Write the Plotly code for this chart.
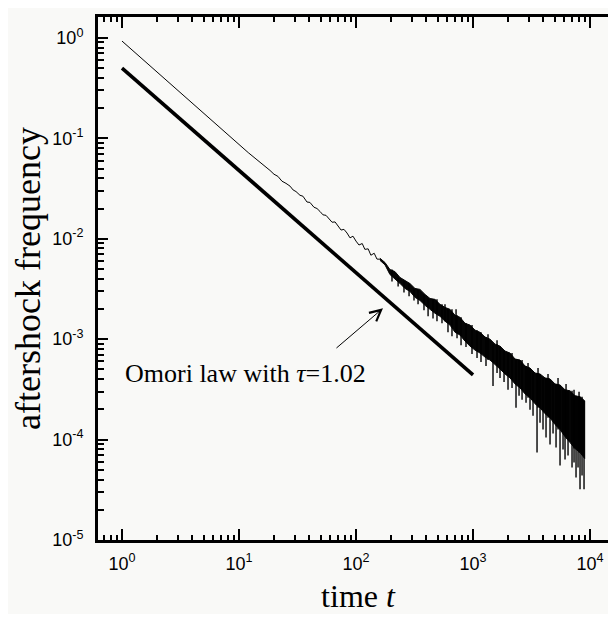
import numpy as np
import plotly.graph_objects as go

# ---------------- data ----------------
# Omori-law fit (thick line), tau = 1.02
omori_t = [1, 1000]
omori_f = [0.5, 4.4e-4]

# observed aftershock frequency, early (clean) part
obs_t = [1, 5, 12, 18.4, 19.9, 21.5, 23.3, 25.2, 27.3, 29.0, 30.7, 33.2, 35.2, 38.1,
         40.4, 43.7, 46.4, 49.2, 52.2, 55.4, 58.8, 62.4, 66.2, 70.2, 74.5, 78.9,
         83.8, 88.9, 94.2, 100, 106, 113, 119, 127, 134, 143, 151, 160]
obs_f = [0.93, 0.177, 0.072, 0.0479, 0.0439, 0.0418, 0.0374, 0.0356, 0.0334, 0.0306,
         0.0295, 0.0271, 0.0265, 0.0232, 0.0230, 0.0206, 0.0200, 0.0187, 0.0173,
         0.0171, 0.0158, 0.0146, 0.0147, 0.0132, 0.0122, 0.0124, 0.0114, 0.0102,
         0.0106, 9.47e-3, 8.66e-3, 8.96e-3, 7.84e-3, 7.93e-3, 6.85e-3, 7.17e-3,
         6.27e-3, 6.25e-3]

# noisy late part: upper / lower edge of the dense band
band_t = [160, 177, 195, 215, 238, 262, 289, 319, 352, 389, 429, 473, 522, 576, 636,
          702, 774, 854, 943, 1040, 1148, 1266, 1397, 1542, 1701, 1877, 2071, 2286,
          2522, 2782, 3070, 3388, 3738, 4125, 4551, 5022, 5541, 6114, 6746, 7443,
          8212, 9000]
band_hi = [6.40e-3, 5.79e-3, 4.93e-3, 4.71e-3, 4.11e-3, 3.84e-3, 3.58e-3, 3.20e-3,
           3.13e-3, 2.79e-3, 2.54e-3, 2.49e-3, 2.22e-3, 2.07e-3, 1.98e-3, 1.73e-3,
           1.65e-3, 1.44e-3, 1.38e-3, 1.23e-3, 1.17e-3, 1.05e-3, 1.00e-3, 8.92e-4,
           8.52e-4, 7.61e-4, 7.27e-4, 6.34e-4, 6.20e-4, 5.40e-4, 5.16e-4, 4.60e-4,
           4.50e-4, 4.11e-4, 4.02e-4, 3.58e-4, 3.50e-4, 3.13e-4, 3.06e-4, 2.73e-4,
           2.67e-4, 2.43e-4]
band_lo = [6.10e-3, 5.49e-3, 4.40e-3, 3.95e-3, 3.58e-3, 3.20e-3, 2.99e-3, 2.61e-3,
           2.43e-3, 2.17e-3, 1.98e-3, 1.81e-3, 1.69e-3, 1.51e-3, 1.38e-3, 1.17e-3,
           1.10e-3, 9.55e-4, 8.52e-4, 7.78e-4, 7.27e-4, 6.63e-4, 6.20e-4, 5.53e-4,
           5.04e-4, 4.50e-4, 4.11e-4, 3.58e-4, 3.27e-4, 2.85e-4, 2.61e-4, 2.27e-4,
           2.07e-4, 1.81e-4, 1.65e-4, 1.41e-4, 1.26e-4, 1.07e-4, 9.34e-5, 8.14e-5,
           7.43e-5, 6.48e-5]

# downward spikes (low counts) in the noisy part
dip_t = [203, 229, 257, 284, 313, 339, 381, 413, 455, 492, 543, 611, 661, 730, 790,
         871, 980, 1082, 1170, 1291, 1482, 1604, 1701, 1841, 1991, 2154, 2330, 2474,
         2624, 2838, 3070, 3257, 3524, 3738, 3965, 4207, 4551, 4829, 5122, 5541,
         5878, 6114, 6486, 7017, 7298, 7591, 7896, 8212, 8543, 8885]
dip_f = [3.75e-3, 3.35e-3, 2.92e-3, 2.67e-3, 2.43e-3, 2.22e-3, 1.94e-3, 1.69e-3,
         1.61e-3, 1.51e-3, 1.44e-3, 1.17e-3, 1.07e-3, 1.02e-3, 8.72e-4, 8.33e-4,
         7.10e-4, 6.48e-4, 5.92e-4, 5.40e-4, 3.42e-4, 4.60e-4, 4.11e-4, 3.75e-4,
         3.13e-4, 3.27e-4, 2.07e-4, 2.73e-4, 2.49e-4, 2.32e-4, 1.98e-4, 1.73e-4,
         7.43e-5, 1.47e-4, 1.26e-4, 1.05e-4, 8.92e-5, 1.15e-4, 8.33e-5, 5.53e-5,
         7.96e-5, 6.34e-5, 6.94e-5, 5.28e-5, 5.92e-5, 4.20e-5, 5.28e-5, 3.20e-5,
         4.40e-5, 3.20e-5]

# upward spikes
peak_t = [576, 716, 1343, 1604, 2952, 3594, 4375, 5327, 6236, 7298, 8054]
peak_f = [2.22e-3, 1.98e-3, 1.12e-3, 9.77e-4, 5.79e-4, 5.16e-4, 4.50e-4, 4.11e-4,
          3.58e-4, 3.13e-4, 2.99e-4]

x_tickvals = [1, 10, 100, 1000, 10000]
x_ticktext = ["10<sup>0</sup>", "10<sup>1</sup>", "10<sup>2</sup>", "10<sup>3</sup>", "10<sup>4</sup>"]
y_tickvals = [1, 0.1, 0.01, 0.001, 1e-4, 1e-5]
y_ticktext = ["10<sup>0</sup>", "10<sup>-1</sup>", "10<sup>-2</sup>", "10<sup>-3</sup>",
              "10<sup>-4</sup>", "10<sup>-5</sup>"]

annot_text = "Omori law with <i>τ</i>=1.02"

# ---------------- build figure ----------------
BG = "#f9f9f7"
INK = "#000000"
LINE = "#050505"

fig = go.Figure()

# dense noisy band as filled polygon
fig.add_trace(go.Scatter(
    x=band_t + band_t[::-1], y=band_hi + band_lo[::-1],
    mode="lines", fill="toself", fillcolor=LINE,
    line=dict(color=LINE, width=1), hoverinfo="skip", showlegend=False))

bt = np.log10(np.array(band_t, dtype=float))


def nearest(t):
    return int(np.argmin(np.abs(bt - np.log10(t))))


sx, sy = [], []
for t, f in zip(dip_t, dip_f):
    i = nearest(t)
    sx += [t, t, None]
    sy += [band_hi[i], f, None]
for t, f in zip(peak_t, peak_f):
    i = nearest(t)
    sx += [t, t, None]
    sy += [band_lo[i], f, None]
fig.add_trace(go.Scatter(x=sx, y=sy, mode="lines",
                         line=dict(color=INK, width=1.4),
                         hoverinfo="skip", showlegend=False))

# early observed line
fig.add_trace(go.Scatter(x=obs_t, y=obs_f, mode="lines",
                         line=dict(color=LINE, width=1),
                         showlegend=False))

# Omori law
fig.add_trace(go.Scatter(x=omori_t, y=omori_f, mode="lines",
                         line=dict(color=INK, width=3.6), showlegend=False))

# dummy trace for right-hand tick axis
fig.add_trace(go.Scatter(x=[], y=[], yaxis="y2", showlegend=False, hoverinfo="skip"))

tick_font = dict(family="Liberation Sans, Arial, sans-serif", size=18, color=INK)
serif = "Liberation Serif, Times New Roman, serif"

fig.update_layout(
    width=612, height=606,
    margin=dict(l=90, r=2, t=9, b=70),
    paper_bgcolor=BG, plot_bgcolor=BG,
    showlegend=False,
    xaxis=dict(
        type="log", range=[-0.205, 4.239],
        showgrid=False, zeroline=False,
        showline=True, linecolor=INK, linewidth=3, mirror="ticks",
        ticks="inside", ticklen=11, tickwidth=1.5, tickcolor=INK,
        tickvals=x_tickvals, ticktext=x_ticktext,
        tickfont=tick_font, ticklabelstandoff=5,
        minor=dict(ticks="inside", ticklen=5, tickwidth=1.5, tickcolor=INK,
                   dtick="D1", showgrid=False),
        title=dict(text="time <i>t</i>", font=dict(family=serif, size=32, color=INK),
                   standoff=16),
    ),
    yaxis=dict(
        type="log", range=[-5, 0.208],
        showgrid=False, zeroline=False,
        showline=True, linecolor=INK, linewidth=3, mirror=False,
        ticks="inside", ticklen=10, tickwidth=1.5, tickcolor=INK,
        tickvals=y_tickvals, ticktext=y_ticktext,
        tickfont=tick_font, ticklabelstandoff=8,
        minor=dict(ticks="inside", ticklen=6, tickwidth=1.5, tickcolor=INK,
                   dtick="D1", showgrid=False),
        title=dict(text="aftershock frequency", font=dict(family=serif, size=36, color=INK),
                   standoff=10),
    ),
    yaxis2=dict(
        type="log", range=[-5, 0.208], overlaying="y", side="right",
        showgrid=False, zeroline=False, showline=False,
        ticks="inside", ticklen=4, tickwidth=1.5, tickcolor=INK,
        tickvals=y_tickvals, showticklabels=False,
    ),
    annotations=[
        dict(x=np.log10(170), y=np.log10(2.03e-3), xref="x", yref="y",
             text="", showarrow=True, arrowhead=5, arrowsize=2.2,
             arrowwidth=1, arrowcolor=INK, ax=-48, ay=41, standoff=0),
        dict(x=np.log10(1.02), y=np.log10(4.5e-4), xref="x", yref="y",
             text=annot_text, showarrow=False, xanchor="left", yanchor="middle",
             font=dict(family=serif, size=26, color=INK)),
    ],
)

fig.write_html("out.html")
